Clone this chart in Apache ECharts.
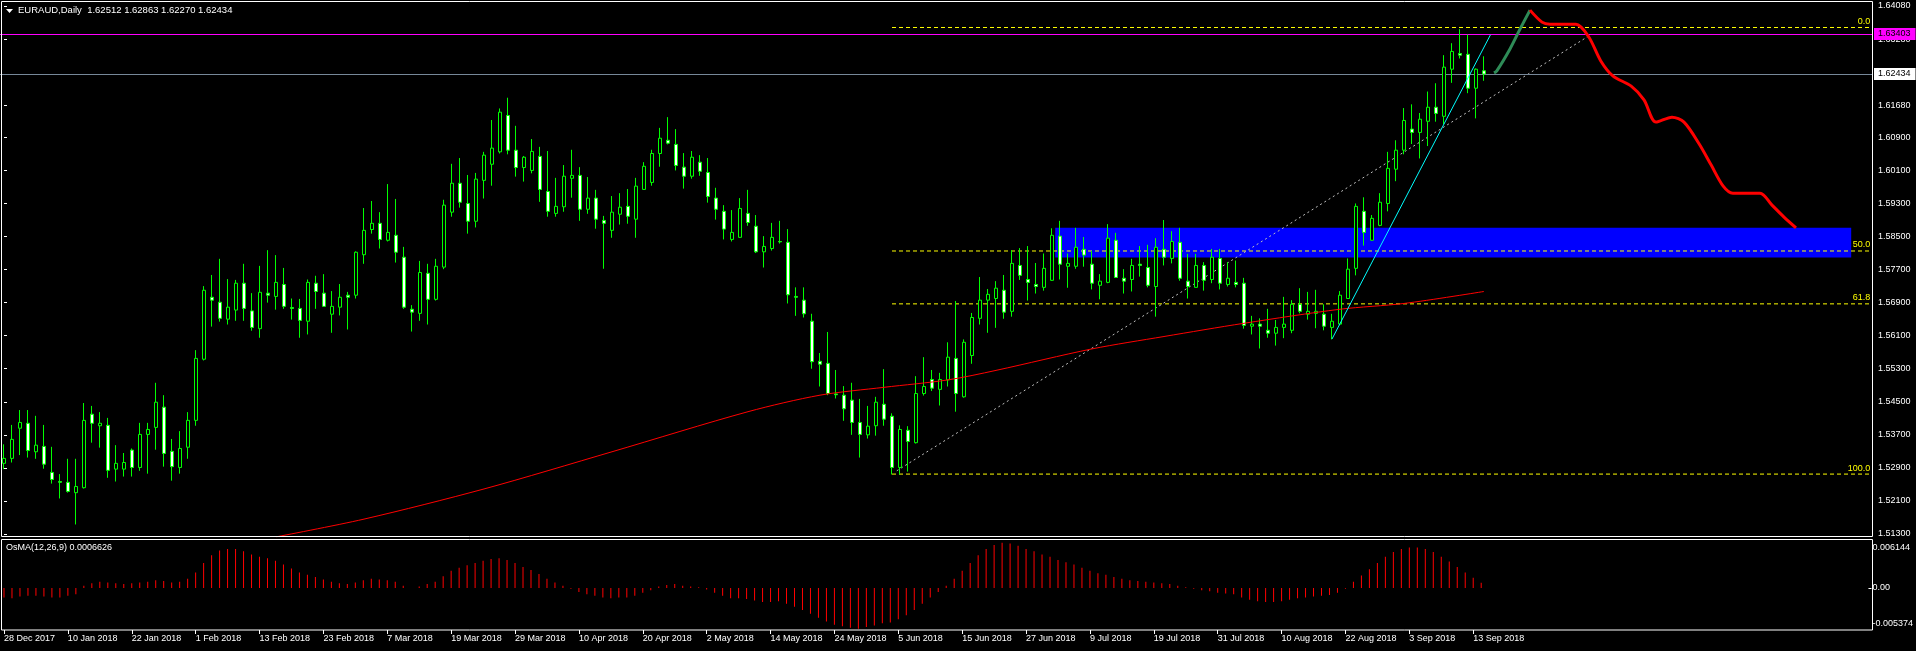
<!DOCTYPE html>
<html><head><meta charset="utf-8">
<script src="https://cdn.jsdelivr.net/npm/echarts@6/dist/echarts.min.js"></script>
<style>html,body{margin:0;padding:0;background:#000;overflow:hidden}#c{width:1916px;height:651px}</style>
</head><body><div id="c"></div>
<script>
// ---------- data ----------
const symbolName = 'EURAUD,Daily';
const tickLabels = ['28 Dec 2017','10 Jan 2018','22 Jan 2018','1 Feb 2018','13 Feb 2018','23 Feb 2018','7 Mar 2018','19 Mar 2018','29 Mar 2018','10 Apr 2018','20 Apr 2018','2 May 2018','14 May 2018','24 May 2018','5 Jun 2018','15 Jun 2018','27 Jun 2018','9 Jul 2018','19 Jul 2018','31 Jul 2018','10 Aug 2018','22 Aug 2018','3 Sep 2018','13 Sep 2018'];
const opens = [1.5301,1.5313,1.5386,1.5398,1.5329,1.5342,1.5279,1.5257,1.5255,1.5230,1.5242,1.5420,1.5392,1.5393,1.5287,1.5287,1.5333,1.5291,1.5371,1.5388,1.5437,1.5330,1.5291,1.5340,1.5405,1.5553,1.5703,1.5691,1.5650,1.5672,1.5737,1.5670,1.5627,1.5713,1.5705,1.5734,1.5678,1.5676,1.5645,1.5737,1.5713,1.5662,1.5679,1.5708,1.5708,1.5806,1.5867,1.5882,1.5841,1.5853,1.5800,1.5674,1.5664,1.5761,1.5698,1.5776,1.5909,1.5979,1.5930,1.5887,1.5986,1.6025,1.6055,1.6143,1.6059,1.6017,1.6010,1.6044,1.5959,1.5906,1.5922,1.5991,1.5998,1.5916,1.5943,1.5889,1.5865,1.5904,1.5923,1.5892,1.5964,1.5981,1.6051,1.6083,1.6073,1.6018,1.5996,1.6030,1.6005,1.5943,1.5911,1.5843,1.5848,1.5906,1.5875,1.5813,1.5821,1.5838,1.5836,1.5705,1.5696,1.5645,1.5548,1.5543,1.5469,1.5466,1.5454,1.5400,1.5370,1.5392,1.5444,1.5415,1.5291,1.5381,1.5351,1.5470,1.5504,1.5480,1.5503,1.5555,1.5462,1.5562,1.5652,1.5696,1.5700,1.5720,1.5669,1.5780,1.5746,1.5734,1.5727,1.5744,1.5851,1.5778,1.5778,1.5819,1.5783,1.5732,1.5739,1.5841,1.5749,1.5746,1.5783,1.5775,1.5729,1.5819,1.5797,1.5836,1.5742,1.5727,1.5780,1.5746,1.5797,1.5734,1.5739,1.5737,1.5633,1.5638,1.5623,1.5616,1.5630,1.5623,1.5686,1.5662,1.5664,1.5662,1.5630,1.5638,1.5700,1.5773,1.5911,1.5841,1.5877,1.5930,1.6013,1.6059,1.6110,1.6102,1.6129,1.6163,1.6141,1.6255,1.6293,1.6291,1.6209,1.62512];
const highs = [1.5347,1.5394,1.5430,1.5430,1.5416,1.5394,1.5341,1.5275,1.5312,1.5312,1.5447,1.5440,1.5425,1.5411,1.5345,1.5326,1.5337,1.5399,1.5399,1.5496,1.5466,1.5360,1.5379,1.5425,1.5575,1.5730,1.5757,1.5796,1.5747,1.5745,1.5784,1.5713,1.5779,1.5817,1.5805,1.5774,1.5700,1.5699,1.5746,1.5755,1.5759,1.5718,1.5735,1.5716,1.5814,1.5919,1.5936,1.5909,1.5977,1.5941,1.5825,1.5684,1.5791,1.5784,1.5796,1.5939,1.6026,1.6040,1.5999,1.6004,1.6055,1.6132,1.6160,1.6186,1.6118,1.6045,1.6086,1.6067,1.6057,1.5992,1.6023,1.6060,1.6018,1.5994,1.5963,1.5900,1.5948,1.5955,1.5965,1.5992,1.6030,1.6060,1.6113,1.6139,1.6110,1.6052,1.6057,1.6047,1.6040,1.5968,1.5926,1.5914,1.5943,1.5963,1.5902,1.5851,1.5883,1.5888,1.5868,1.5727,1.5727,1.5663,1.5568,1.5619,1.5527,1.5488,1.5496,1.5457,1.5440,1.5462,1.5529,1.5422,1.5393,1.5391,1.5512,1.5558,1.5527,1.5520,1.5594,1.5694,1.5601,1.5665,1.5752,1.5723,1.5742,1.5757,1.5817,1.5822,1.5827,1.5786,1.5809,1.5870,1.5888,1.5809,1.5871,1.5849,1.5815,1.5759,1.5880,1.5859,1.5771,1.5796,1.5827,1.5830,1.5846,1.5890,1.5863,1.5871,1.5808,1.5808,1.5788,1.5820,1.5820,1.5788,1.5792,1.5750,1.5658,1.5652,1.5675,1.5648,1.5704,1.5696,1.5725,1.5716,1.5721,1.5686,1.5663,1.5718,1.5797,1.5930,1.5945,1.5902,1.5955,1.6055,1.6083,1.6161,1.6170,1.6149,1.6201,1.6221,1.6289,1.6318,1.6352,1.6339,1.6257,1.62863];
const lows = [1.5287,1.5303,1.5321,1.5315,1.5312,1.5288,1.5252,1.5216,1.5230,1.5153,1.5240,1.5351,1.5339,1.5266,1.5257,1.5269,1.5269,1.5283,1.5276,1.5334,1.5293,1.5259,1.5276,1.5312,1.5392,1.5550,1.5632,1.5644,1.5637,1.5646,1.5646,1.5622,1.5605,1.5690,1.5673,1.5675,1.5649,1.5605,1.5613,1.5675,1.5680,1.5617,1.5659,1.5625,1.5700,1.5784,1.5857,1.5821,1.5838,1.5787,1.5675,1.5620,1.5646,1.5637,1.5695,1.5771,1.5898,1.5920,1.5857,1.5872,1.5942,1.5973,1.6051,1.6049,1.5995,1.5983,1.6003,1.5934,1.5898,1.5898,1.5910,1.5944,1.5888,1.5905,1.5869,1.5772,1.5847,1.5879,1.5881,1.5847,1.5963,1.5973,1.6019,1.6073,1.6010,1.5966,1.5990,1.5997,1.5932,1.5891,1.5843,1.5838,1.5847,1.5876,1.5810,1.5775,1.5816,1.5833,1.5688,1.5658,1.5654,1.5530,1.5487,1.5466,1.5458,1.5404,1.5370,1.5315,1.5361,1.5368,1.5392,1.5274,1.5274,1.5281,1.5349,1.5465,1.5476,1.5441,1.5487,1.5426,1.5460,1.5542,1.5637,1.5617,1.5629,1.5651,1.5656,1.5745,1.5695,1.5712,1.5719,1.5743,1.5746,1.5726,1.5772,1.5777,1.5722,1.5698,1.5737,1.5750,1.5712,1.5717,1.5753,1.5727,1.5656,1.5780,1.5785,1.5743,1.5700,1.5727,1.5719,1.5737,1.5722,1.5729,1.5727,1.5627,1.5613,1.5579,1.5605,1.5586,1.5604,1.5616,1.5664,1.5649,1.5628,1.5623,1.5601,1.5635,1.5700,1.5756,1.5828,1.5840,1.5875,1.5911,1.5984,1.6049,1.6074,1.6039,1.6069,1.6128,1.6122,1.6222,1.6281,1.6197,1.6136,1.62270];
const closes = [1.5313,1.5359,1.5400,1.5332,1.5345,1.5299,1.5262,1.5255,1.5233,1.5245,1.5405,1.5398,1.5398,1.5284,1.5301,1.5303,1.5291,1.5371,1.5383,1.5449,1.5325,1.5293,1.5337,1.5405,1.5555,1.5720,1.5696,1.5652,1.5679,1.5737,1.5676,1.5630,1.5715,1.5708,1.5739,1.5681,1.5676,1.5647,1.5739,1.5717,1.5681,1.5681,1.5703,1.5703,1.5812,1.5865,1.5882,1.5843,1.5860,1.5812,1.5679,1.5667,1.5763,1.5698,1.5778,1.5926,1.5979,1.5933,1.5887,1.5989,1.6047,1.6064,1.6151,1.6059,1.6017,1.6042,1.6056,1.5964,1.5911,1.5923,1.5996,1.5998,1.5916,1.5943,1.5892,1.5882,1.5909,1.5921,1.5899,1.5972,1.6020,1.6051,1.6088,1.6076,1.6022,1.5996,1.6042,1.6008,1.5947,1.5916,1.5868,1.5860,1.5918,1.5884,1.5813,1.5826,1.5848,1.5837,1.5709,1.5703,1.5663,1.5547,1.5541,1.5470,1.5467,1.5433,1.5400,1.5371,1.5391,1.5449,1.5408,1.5291,1.5383,1.5354,1.5470,1.5487,1.5483,1.5504,1.5558,1.5470,1.5594,1.5654,1.5696,1.5710,1.5725,1.5667,1.5785,1.5756,1.5739,1.5729,1.5773,1.5853,1.5783,1.5785,1.5824,1.5805,1.5737,1.5742,1.5846,1.5751,1.5742,1.5780,1.5780,1.5732,1.5824,1.5800,1.5838,1.5749,1.5729,1.5780,1.5744,1.5800,1.5737,1.5749,1.5734,1.5635,1.5638,1.5633,1.5616,1.5630,1.5638,1.5686,1.5669,1.5669,1.5669,1.5633,1.5645,1.5708,1.5771,1.5923,1.5860,1.5894,1.5933,1.6015,1.6059,1.6131,1.6102,1.6134,1.6163,1.6148,1.6260,1.6298,1.6289,1.6209,1.6255,1.62434];
const osma = [-0.0012,-0.0013,-0.0011,-0.0010,-0.0010,-0.0011,-0.0012,-0.0012,-0.0010,-0.0008,
 0.0003,0.0006,0.0008,0.0007,0.0006,0.0005,0.0006,0.0007,0.0008,0.0010,
 0.0009,0.0007,0.0008,0.0012,0.0020,0.0032,0.0042,0.0048,0.0050,0.0050,
 0.0047,0.0043,0.0040,0.0038,0.0035,0.0030,0.0025,0.0020,0.0017,0.0014,
 0.0011,0.0008,0.0006,0.0005,0.0007,0.0010,0.0012,0.0011,0.0010,0.0008,
 0.0003,0.0000,0.0002,0.0005,0.0008,0.0015,0.0022,0.0026,0.0029,0.0032,
 0.0035,0.0037,0.0038,0.0036,0.0032,0.0027,0.0023,0.0018,0.0012,0.0007,
 0.0003,-0.0001,-0.0005,-0.0008,-0.0010,-0.0012,-0.0013,-0.0012,-0.0012,-0.0010,
 -0.0006,-0.0003,0.0002,0.0004,0.0005,0.0003,0.0002,0.0001,-0.0002,-0.0006,
 -0.0010,-0.0013,-0.0013,-0.0014,-0.0016,-0.0018,-0.0018,-0.0017,-0.0020,-0.0024,
 -0.0028,-0.0033,-0.0038,-0.0043,-0.0047,-0.0049,-0.0051,-0.0052,-0.0050,-0.0048,
 -0.0045,-0.0044,-0.0040,-0.0035,-0.0028,-0.0020,-0.0012,-0.0005,0.0003,0.0012,
 0.0022,0.0032,0.0042,0.0050,0.0055,0.0058,0.0057,0.0054,0.0050,0.0047,
 0.0043,0.0040,0.0036,0.0033,0.0030,0.0026,0.0022,0.0019,0.0017,0.0014,
 0.0012,0.0010,0.0009,0.0008,0.0007,0.0006,0.0005,0.0003,0.0001,-0.0001,
 -0.0003,-0.0004,-0.0006,-0.0007,-0.0008,-0.0012,-0.0015,-0.0017,-0.0018,-0.0018,
 -0.0017,-0.0015,-0.0013,-0.0012,-0.0011,-0.0010,-0.0009,-0.0006,-0.0001,0.0008,
 0.0016,0.0024,0.0032,0.0040,0.0046,0.0050,0.0052,0.0052,0.0050,0.0046,
 0.0040,0.0034,0.0027,0.0020,0.0013,0.0006626];
// moving average (red) read at bar positions
const maBars = [34,45,60,76,93,102,110,118,124,136,145,155,167,175,185];
const maValues = [1.5123,1.5166,1.5239,1.5329,1.5426,1.5466,1.5485,1.5503,1.5526,1.5578,1.5608,1.5640,1.5674,1.5688,1.5717];
// price axis ticks
const priceTicks = [1.513,1.521,1.529,1.537,1.545,1.553,1.561,1.569,1.577,1.585,1.593,1.601,1.609,1.6168,1.6328,1.6408];
const osmaTicks = [0.006144,0,-0.005374];
// objects
const fibNames = ['0.0','50.0','61.8','100.0'];
const fibPrices = [1.6356,1.5815,1.5687,1.5275];
const fibStartBar = 111;
const zoneBars = [131.4,230.9];
const zonePrices = [1.5871,1.5799];
const bidPrice = 1.62434;
const alertPrice = 1.63403;
const cyanBars = [166,185.8], cyanPrices = [1.5602,1.6338];
const fibTrendBars = [111.6,198.3], fibTrendPrices = [1.5283,1.6338];
const greenBars = [186.25,186.6,188.25,189.5,190.75];
const greenPrices = [1.6246,1.6251,1.6304,1.6352,1.6398];
const redBars = [190.75,192.25,193.25,196.5,198.1,199.6,201.1,203.4,205,206.5,208.5,210,211.9,213.4,214.9,216.1,219.5,221,222.5,224];
const redPrices = [1.6398,1.6369,1.6364,1.6364,1.6333,1.6275,1.6239,1.6214,1.6181,1.6127,1.6139,1.6127,1.6074,1.6023,1.5972,1.5955,1.5955,1.5926,1.5897,1.5871];

// ---------- chart ----------
const N = 234;
const cats = Array.from({length: N}, (_, i) => String(i));
const candles = opens.map((o, i) => [o, closes[i], lows[i], highs[i]]);
const pair = (xs, ys) => xs.map((x, i) => [x, ys[i]]);
const FONT = 'Liberation Sans';
const last = opens.length - 1;
const titleText = symbolName + '  ' + [opens[last], highs[last], lows[last], closes[last]].map(v => v.toFixed(5)).join(' ');
const isLabelIdx = idx => idx % 8 === 0 && idx / 8 < tickLabels.length;

const fibSeries = fibPrices.map((p, k) => ({
  type: 'line', xAxisIndex: 1, yAxisIndex: 0, symbol: 'circle', symbolSize: 1, showSymbol: true, silent: true, z: 3,
  itemStyle: {color: 'rgba(0,0,0,0)'},
  lineStyle: {color: '#ffff00', width: 1, type: [4, 3]},
  data: [[fibStartBar, p], {value: [N - 0.6, p], label: {show: true, position: 'top', align: 'right', distance: 1, offset: [-1, 0], formatter: fibNames[k], color: '#ffff00', fontSize: 9, fontFamily: FONT}}]
}));

const chart = echarts.init(document.getElementById('c'), null, {renderer: 'canvas'});
chart.setOption({
  backgroundColor: '#000',
  animation: false,
  textStyle: {fontFamily: FONT},
  grid: [
    {left: 0, top: 2, width: 1872, height: 535},
    {left: 0, top: 540, width: 1872, height: 90}
  ],
  xAxis: [
    {type: 'category', gridIndex: 0, data: cats, boundaryGap: true, show: false},
    {type: 'value', gridIndex: 0, min: -0.5, max: N - 0.5, show: false},
    {type: 'category', gridIndex: 1, data: cats, boundaryGap: true, position: 'bottom',
      axisLine: {show: false, onZero: false},
      axisTick: {show: true, interval: isLabelIdx, alignWithLabel: true, length: 4, lineStyle: {color: '#fff'}},
      axisLabel: {interval: isLabelIdx, align: 'left', color: '#fff', fontSize: 9, fontFamily: FONT, margin: 4,
        formatter: (v, idx) => tickLabels[idx / 8] || ''}
    }
  ],
  yAxis: [
    {type: 'value', gridIndex: 0, position: 'right', min: 1.51227, max: 1.64177,
      splitLine: {show: false}, axisLine: {show: false},
      axisTick: {show: true, customValues: priceTicks, length: 3, lineStyle: {color: '#fff'}},
      axisLabel: {customValues: priceTicks, color: '#fff', fontSize: 9, fontFamily: FONT, margin: 6, formatter: v => v.toFixed(5)}
    },
    {type: 'value', gridIndex: 1, position: 'right', min: -0.005374, max: 0.006144,
      splitLine: {show: false}, axisLine: {show: false, onZero: false},
      axisTick: {show: true, customValues: [0], length: 3, lineStyle: {color: '#fff'}},
      axisLabel: {customValues: osmaTicks, color: '#fff', fontSize: 9, fontFamily: FONT, margin: 4,
        formatter: v => v === 0 ? '0.00' : (v > 0 ? '{t|' + v.toFixed(6) + '}' : '{b|' + v.toFixed(6) + '}'),
        rich: {t: {padding: [15, 0, 0, 0], color: '#fff', fontSize: 9}, b: {padding: [0, 0, 13, 0], color: '#fff', fontSize: 9}}}
    }
  ],
  series: [
    // blue zone (background)
    {type: 'line', xAxisIndex: 1, yAxisIndex: 0, data: [], silent: true, z: 1,
      markArea: {silent: true, itemStyle: {color: '#0000ff', opacity: 1},
        data: [[{xAxis: zoneBars[0], yAxis: zonePrices[0]}, {xAxis: zoneBars[1], yAxis: zonePrices[1]}]]}},
    // horizontal price lines
    {type: 'line', xAxisIndex: 1, yAxisIndex: 0, data: [], silent: true, z: 4,
      markLine: {silent: true, symbol: ['none', 'none'], animation: false, precision: 6,
        data: [
          {yAxis: alertPrice, lineStyle: {color: '#ff00ff', width: 1, type: 'solid'},
            label: {show: true, position: 'end', distance: 2, formatter: alertPrice.toFixed(5), color: '#000', backgroundColor: '#ff00ff', padding: [2, 5, 1, 4], fontSize: 9, fontFamily: FONT}},
          {yAxis: bidPrice, lineStyle: {color: '#778899', width: 1, type: 'solid'},
            label: {show: true, position: 'end', distance: 2, formatter: bidPrice.toFixed(5), color: '#000', backgroundColor: '#fff', padding: [2, 5, 1, 4], fontSize: 9, fontFamily: FONT}}
        ]}},
    ...fibSeries,
    // fibonacci trend (dotted)
    {type: 'line', xAxisIndex: 1, yAxisIndex: 0, symbol: 'none', silent: true, z: 3,
      lineStyle: {color: '#c0c0c0', width: 1, type: [2, 3]}, data: pair(fibTrendBars, fibTrendPrices)},
    // candles
    {type: 'candlestick', xAxisIndex: 0, yAxisIndex: 0, barWidth: 4, z: 5,
      itemStyle: {color: '#000', color0: '#fff', borderColor: '#00ff00', borderColor0: '#00ff00', borderColorDoji: '#00ff00', borderWidth: 1},
      data: candles},
    // moving average
    {type: 'line', xAxisIndex: 1, yAxisIndex: 0, symbol: 'none', silent: true, z: 6, smooth: 0.3,
      lineStyle: {color: '#ff0000', width: 1}, data: pair(maBars, maValues)},
    // cyan trend line
    {type: 'line', xAxisIndex: 1, yAxisIndex: 0, symbol: 'none', silent: true, z: 6,
      lineStyle: {color: '#00ffff', width: 1}, data: pair(cyanBars, cyanPrices)},
    // projection paths
    {type: 'line', xAxisIndex: 1, yAxisIndex: 0, symbol: 'none', silent: true, z: 6, smooth: 0.3,
      lineStyle: {color: '#2e8b57', width: 3}, data: pair(greenBars, greenPrices)},
    {type: 'line', xAxisIndex: 1, yAxisIndex: 0, symbol: 'none', silent: true, z: 6, smooth: 0.3,
      lineStyle: {color: '#ff0000', width: 3}, data: pair(redBars, redPrices)},
    // OsMA histogram
    {type: 'bar', xAxisIndex: 2, yAxisIndex: 1, barWidth: 1, silent: true,
      itemStyle: {color: '#ff0000'}, data: osma}
  ],
  graphic: [
    {type: 'rect', silent: true, z: 100, shape: {x: 1.5, y: 1.5, width: 1871, height: 535}, style: {fill: null, stroke: '#ffffff', lineWidth: 1}},
    {type: 'rect', silent: true, z: 100, shape: {x: 1.5, y: 539.5, width: 1871, height: 90.5}, style: {fill: null, stroke: '#ffffff', lineWidth: 1}},
    {type: 'polygon', silent: true, z: 100, shape: {points: [[6, 9], [13, 9], [9.5, 13]]}, style: {fill: '#ffffff'}},
    {type: 'text', silent: true, z: 100, left: 18, top: 5, style: {text: titleText, fill: '#ffffff', font: '9.5px "Liberation Sans"'}},
    {type: 'text', silent: true, z: 100, left: 6, top: 543, style: {text: 'OsMA(12,26,9) ' + osma[last].toFixed(7), fill: '#ffffff', font: '9px "Liberation Sans"'}}
  ]
});
</script></body></html>
